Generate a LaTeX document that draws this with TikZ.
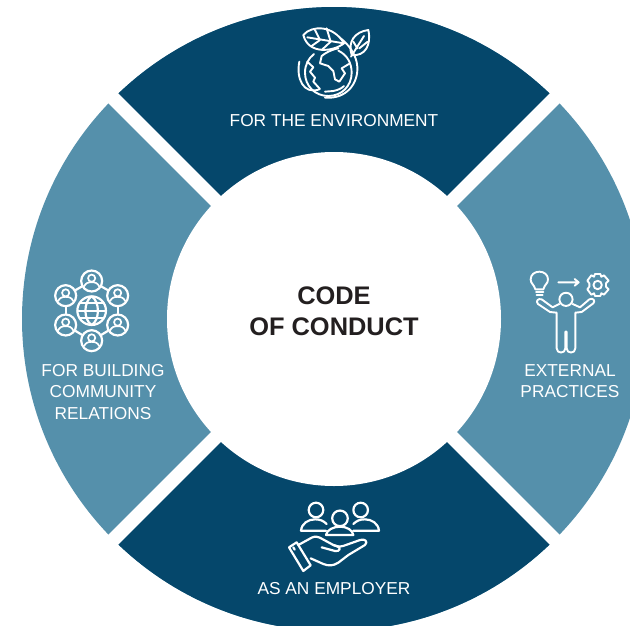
\documentclass[tikz,border=0pt]{standalone}
\usepackage{fontspec}
\setmainfont{Liberation Sans}
\definecolor{darkblue}{HTML}{05476B}
\definecolor{lightblue}{HTML}{5590AB}
\definecolor{titleink}{HTML}{231F20}
\tikzset{
  seglabel/.style={text=white,align=center,inner sep=0pt,font=\fontsize{17.3}{21.6}\selectfont},
  title/.style={text=titleink,align=center,inner sep=0pt,font=\fontsize{25.4}{31}\selectfont\bfseries},
  icon/.style={draw=white,line width=2.2pt,line cap=round,line join=round,fill=none},
  thin icon/.style={draw=white,line width=1.9pt,line cap=round,line join=round,fill=none},
  hub/.style={circle,draw=white,line width=2.2pt,minimum size=21pt,inner sep=0pt},
}
\begin{document}
\begin{tikzpicture}[x=1pt,y=-1pt]
\useasboundingbox (0,0) rectangle (630,625);
\begin{scope}
\clip (0,0) rectangle (630,625);
\fill[lightblue] (334,319) circle[radius=312pt];
\begin{scope}
\clip (334,319) circle[radius=312pt];
\fill[darkblue] (334,319) -- (-100,-115) -- (768,-115) -- cycle;
\fill[darkblue] (334,319) -- (-100,753) -- (768,753) -- cycle;
\end{scope}
\draw[white,line width=14pt] (-30,-45) -- (698,683);
\draw[white,line width=14pt] (698,-45) -- (-30,683);
\fill[white] (334,319) circle[radius=167pt];
\end{scope}
\node[title] (t) at (334,311.5) {CODE\\OF CONDUCT};
\node[seglabel] (env) at (334,120.5) {FOR THE ENVIRONMENT};
\node[seglabel] (comm) at (103,392) {FOR BUILDING\\COMMUNITY\\RELATIONS};
\node[seglabel] (ext) at (570,381) {EXTERNAL\\PRACTICES};
\node[seglabel] (emp) at (334,588.5) {AS AN EMPLOYER};
% earth icon
\begin{scope}[shift={(270,10)},x=0.3333pt,y=-0.3333pt]
\draw[thin icon] (205,122) .. controls (232,135) and (245,160) .. (245,188) .. controls (245,228) and (215,258) .. (175,258) .. controls (135,258) and (105,228) .. (105,188) .. controls (105,165) and (115,145) .. (132,132);
\draw[thin icon] (88,155) .. controls (78,205) and (100,255) .. (148,238);
\draw[thin icon] (165,263) .. controls (230,268) and (265,220) .. (262,170) .. controls (260,135) and (235,100) .. (205,80);
\draw[thin icon] (112,155) -- (130,172) -- (120,185) -- (135,203) -- (130,215) -- (150,237);
\draw[thin icon] (165,245) -- (190,243) .. controls (205,240) and (215,235) .. (222,228);
\draw[thin icon] (205,115) .. controls (180,120) and (165,130) .. (155,138) -- (150,160) -- (175,168) -- (190,183) -- (195,208) -- (208,215) -- (225,190) -- (215,175) -- (240,160);
\fill[darkblue] (100,75) .. controls (125,45) and (190,45) .. (222,100) .. controls (190,125) and (115,135) .. (100,75) -- cycle;
\draw[thin icon] (100,75) .. controls (125,45) and (190,45) .. (222,100) .. controls (190,125) and (115,135) .. (100,75) -- cycle;
\draw[thin icon] (112,82) -- (222,100);
\draw[thin icon] (135,60) -- (150,90) (170,55) -- (182,95) (125,108) -- (150,90) (155,120) -- (182,95);
\draw[thin icon] (295,60) .. controls (255,65) and (232,95) .. (245,135) .. controls (285,140) and (305,105) .. (295,60) -- cycle;
\draw[thin icon] (243,140) -- (282,78) (250,95) -- (262,115) (293,95) -- (268,115);
\end{scope}
% community icon
\begin{scope}[shift={(30,260)},x=0.3333pt,y=-0.3333pt]
\node[hub] (p1) at (185,63) {};
\node[hub] (p2) at (263,107) {};
\node[hub] (p3) at (263,195) {};
\node[hub] (p4) at (185,242) {};
\node[hub] (p5) at (107,195) {};
\node[hub] (p6) at (107,107) {};
\foreach \a/\b in {p1/p2,p2/p3,p3/p4,p4/p5,p5/p6,p6/p1}{\draw[icon] (\a) -- (\b);}
\foreach \c in {p1,p2,p3,p4,p5,p6}{
  \draw[white,line width=1.7pt] ([shift={(0pt,2.8pt)}]\c.center) circle[radius=3.6pt];
  \draw[white,line width=1.7pt] ([shift={(-7.6pt,-5.5pt)}]\c.center) .. controls ([shift={(-6pt,-2pt)}]\c.center) and ([shift={(-3.5pt,-1.2pt)}]\c.center) .. ([shift={(0pt,-1.2pt)}]\c.center) .. controls ([shift={(3.5pt,-1.2pt)}]\c.center) and ([shift={(6pt,-2pt)}]\c.center) .. ([shift={(7.6pt,-5.5pt)}]\c.center);
}
\draw[icon] (185,152) circle[radius=14.3pt];
\draw[icon] (185,109) .. controls (160,125) and (160,180) .. (185,195);
\draw[icon] (185,109) .. controls (210,125) and (210,180) .. (185,195);
\draw[icon] (149,130) -- (221,130) (142,152) -- (228,152) (149,174) -- (221,174);
\end{scope}
% external icon
\begin{scope}[shift={(510,260)},x=0.3333pt,y=-0.3333pt]
\draw[thin icon] (76,88) .. controls (72,72) and (62,72) .. (62,58) .. controls (62,44) and (74,35) .. (88,35) .. controls (102,35) and (114,44) .. (114,58) .. controls (114,72) and (104,72) .. (100,88) -- cycle;
\draw[thin icon] (78,96) -- (100,96) (80,104) -- (98,104);
\draw[thin icon] (145,67) -- (206,67) (194,57) -- (206,67) -- (194,77);
\draw[thin icon] (263,75) circle[radius=4.2pt];
\draw[thin icon] (255,42) -- (271,42) -- (274,50) -- (282,46) -- (296,62) -- (288,70) -- (288,80) -- (296,88) -- (282,104) -- (274,100) -- (271,108) -- (255,108) -- (252,100) -- (244,104) -- (232,88) -- (238,80) -- (238,70) -- (232,62) -- (244,46) -- (252,50) -- cycle;
\draw[thin icon] (168,118) circle[radius=6.6pt];
\draw[thin icon] (148,132) -- (128,142) -- (95,118) .. controls (84,114) and (76,124) .. (84,132) -- (120,156) -- (140,158) -- (140,265) .. controls (140,282) and (166,282) .. (166,265) -- (166,215) -- (170,215) -- (170,265) .. controls (170,282) and (196,282) .. (196,265) -- (196,158) -- (215,156) -- (250,130) .. controls (258,122) and (248,112) .. (238,118) -- (210,142) -- (188,132);
\end{scope}
% employer icon
\begin{scope}[shift={(270,490)},x=0.3333pt,y=-0.3333pt]
\draw[icon] (138,60) circle[radius=7.3pt];
\draw[icon] (272,60) circle[radius=7.3pt];
\draw[icon] (210,85) circle[radius=7.8pt];
\draw[icon] (168,122) -- (93,122) .. controls (95,100) and (115,88) .. (135,88) .. controls (150,88) and (160,92) .. (170,102);
\draw[icon] (250,122) -- (327,122) .. controls (325,100) and (305,88) .. (285,88) .. controls (270,88) and (260,92) .. (250,102);
\draw[icon] (168,135) .. controls (170,120) and (190,110) .. (210,110) .. controls (230,110) and (248,120) .. (250,135) -- cycle;
\draw[icon] (57,172) -- (80,157) -- (122,226) -- (100,243) -- cycle;
\draw[icon] (70,172) -- (74,179);
\draw[icon] (85,165) -- (125,143) .. controls (135,138) and (145,140) .. (155,146) -- (190,165) .. controls (205,172) and (215,170) .. (228,165) -- (270,150) .. controls (285,145) and (295,155) .. (285,165) -- (235,195) -- (205,218) .. controls (190,228) and (175,228) .. (160,222) -- (122,205);
\draw[icon] (155,172) -- (195,183) .. controls (210,186) and (215,172) .. (200,168) -- (190,165);
\end{scope}
\end{tikzpicture}
\end{document}
